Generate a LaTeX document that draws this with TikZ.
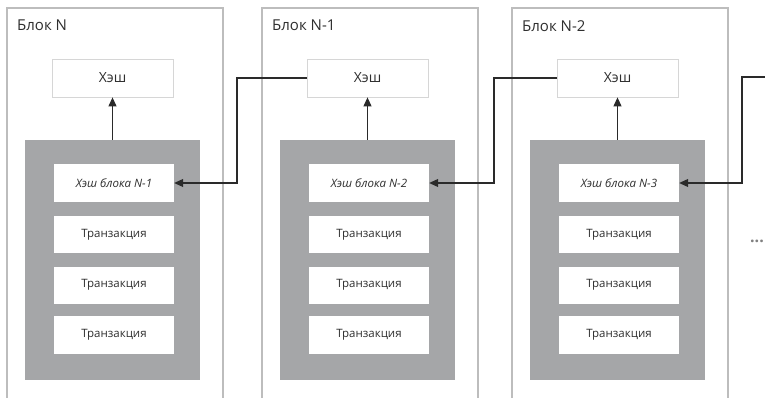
\documentclass[tikz,border=0pt]{standalone}
\usepackage{fontspec}
\setmainfont{Open Sans}
\usetikzlibrary{arrows.meta,positioning,calc}
\definecolor{outerc}{HTML}{BDBDBD}
\definecolor{grayfill}{HTML}{A5A6A8}
\definecolor{linec}{HTML}{2A2A2A}
\definecolor{hashb}{HTML}{D6D6D6}
\definecolor{txtc}{HTML}{2F2F2F}
\tikzset{
  outerbox/.style={draw=outerc, line width=1.1pt, fill=white},
  grayblk/.style={fill=grayfill, draw=none},
  hashbox/.style={draw=hashb, line width=0.8pt, fill=white, text=txtc, font=\fontsize{14}{16}\selectfont},
  innerbox/.style={fill=white, draw=none, text=txtc},
  prevtxt/.style={font=\itshape\fontsize{11.5}{13}\selectfont},
  txtxt/.style={font=\fontsize{11.5}{13}\selectfont},
  blklabel/.style={anchor=north west, inner sep=0pt, text=txtc, font=\fontsize{15}{17}\selectfont},
  conn/.style={draw=linec, line width=1.1pt},
  arr/.style={conn, -{Triangle[length=9pt,width=8pt]}},
}
\begin{document}
\begin{tikzpicture}[x=1pt,y=-1pt]
\useasboundingbox (0,0) rectangle (765,398);
\clip (0,0) rectangle (765,398);
\fill[white] (0,0) rectangle (765,398);
% blocks
\foreach \L/\lab/\pv/\n in {7/{Блок N}/{Хэш блока N-1}/a, 262/{Блок N-1}/{Хэш блока N-2}/b, 512/{Блок N-2}/{Хэш блока N-3}/c}{
  \draw[outerbox] (\L,8) -- (\L,402) -- (\L+216,402) -- (\L+216,8) -- cycle;
  \node[blklabel] (lab\n) at (\L+10,20) {\lab};
  \node[grayblk, minimum width=175pt, minimum height=240pt, inner sep=0pt] (g\n) at (\L+105.5,260) {};
  \node[hashbox, minimum width=121pt, minimum height=38pt, inner sep=0pt] (h\n) at (\L+105.5,78) {Хэш};
  \node[innerbox, prevtxt, minimum width=120pt, minimum height=38pt, inner sep=0pt] (p\n) at (\L+107,183) {\pv};
  \node[innerbox, txtxt, minimum width=120pt, minimum height=37pt, inner sep=0pt] (t1\n) at (\L+107,234.5) {Транзакция};
  \node[innerbox, txtxt, minimum width=120pt, minimum height=37pt, inner sep=0pt] (t2\n) at (\L+107,285) {Транзакция};
  \node[innerbox, txtxt, minimum width=120pt, minimum height=38pt, inner sep=0pt] (t3\n) at (\L+107,335) {Транзакция};
  \draw[arr] (g\n.north) -- (h\n.south);
}
% connectors
\draw[arr] (hb.west) -- (237,78) -- (237,183) -- (pa.east);
\draw[arr] (hc.west) -- (494,78) -- (494,183) -- (pb.east);
\coordinate (nextend) at (767,77);
\draw[arr] (nextend) -- (742,77) -- (742,183) -- (pc.east);
\node[text=gray, font=\bfseries\fontsize{16}{16}\selectfont, inner sep=0pt] (dots) at (757,241) {...};
\end{tikzpicture}
\end{document}
